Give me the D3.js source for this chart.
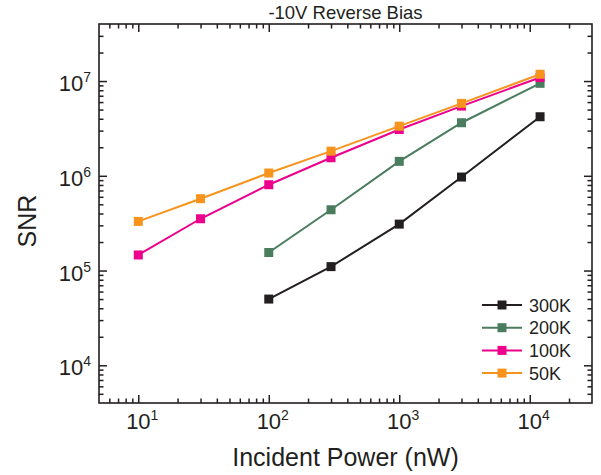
<!DOCTYPE html>
<html>
<head>
<script src="https://cdn.jsdelivr.net/npm/d3@7"></script>
<style>
  body { margin: 0; background: #fff; }
  text { font-family: "Liberation Sans", Arial, sans-serif; fill: #231f20; }
</style>
</head>
<body>
<script>
	var width = 601;
	var height = 475;
	var margin = {top: 24, right: 9, bottom: 72, left: 99};

	// data
	var power = [10, 30, 100, 300, 1000, 3000, 12000];
	var snr300 = [null, null, 5.0e4, 1.10e5, 3.09e5, 9.7e5, 4.2e6];
	var snr200 = [null, null, 1.55e5, 4.38e5, 1.42e6, 3.63e6, 9.46e6];
	var snr100 = [1.46e5, 3.52e5, 8.05e5, 1.55e6, 3.08e6, 5.44e6, 1.09e7];
	var snr50 = [3.30e5, 5.73e5, 1.07e6, 1.82e6, 3.34e6, 5.81e6, 1.18e7];

	var seriesNames = ["300K", "200K", "100K", "50K"];
	var seriesColors = ["#231f20", "#4a7c5e", "#ec008c", "#f7941d"];
	var seriesValues = [snr300, snr200, snr100, snr50];

	var xTicks = [10, 100, 1000, 10000];
	var yTicks = [1e4, 1e5, 1e6, 1e7];

	var svg = d3.select("body")
		.append("svg")
		.attr("width", width)
		.attr("height", height)

	var x = d3.scaleLog()
		.domain([5, 30000])
		.range([margin.left, width - margin.right])
	var y = d3.scaleLog()
		.domain([4000, 4e7])
		.range([height - margin.bottom, margin.top])

	var x0 = margin.left, x1 = width - margin.right;
	var y0 = height - margin.bottom, y1 = margin.top;

	// minor tick values
	function minors(scale) {
		var d = scale.domain(), out = [];
		for (var e = -1; e < 9; e++) {
			for (var k = 2; k < 10; k++) {
				var v = k * Math.pow(10, e);
				if (v > d[0] && v < d[1]) out.push(v);
			}
		}
		return out;
	}

	function drawAxis(axisFn, scale, ticks, size, tx, ty) {
		svg.append("g")
			.attr("transform", "translate(" + tx + "," + ty + ")")
			.call(axisFn(scale).tickValues(ticks).tickSize(size).tickFormat(""))
			.call(g => g.select(".domain").remove())
			.selectAll("line").attr("stroke", "#231f20").attr("stroke-width", 1.5)
	}

	// ticks point inward on all four sides
	drawAxis(d3.axisBottom, x, xTicks, -8, 0, y0)
	drawAxis(d3.axisBottom, x, minors(x), -4.5, 0, y0)
	drawAxis(d3.axisTop, x, xTicks, -8, 0, y1)
	drawAxis(d3.axisTop, x, minors(x), -4.5, 0, y1)
	drawAxis(d3.axisLeft, y, yTicks, -8, x0, 0)
	drawAxis(d3.axisLeft, y, minors(y), -4.5, x0, 0)
	drawAxis(d3.axisRight, y, yTicks, -8, x1, 0)
	drawAxis(d3.axisRight, y, minors(y), -4.5, x1, 0)

	// frame
	svg.append("rect")
		.attr("x", x0).attr("y", y1)
		.attr("width", x1 - x0).attr("height", y0 - y1)
		.attr("fill", "none")
		.attr("stroke", "#231f20")
		.attr("stroke-width", 1.6)

	// tick labels 10^n
	function powLabel(sel) {
		sel.append("tspan").text("10").attr("font-size", 22)
		sel.append("tspan").text(d => Math.round(Math.log10(d)))
			.attr("font-size", 14).attr("dy", -9)
	}
	svg.selectAll(".xlab")
		.data(xTicks)
		.enter()
		.append("text")
		.attr("x", d => x(d) + 4)
		.attr("y", y0 + 26)
		.attr("text-anchor", "middle")
		.call(powLabel)
	svg.selectAll(".ylab")
		.data(yTicks)
		.enter()
		.append("text")
		.attr("x", x0 - 8)
		.attr("y", d => y(d) + 10)
		.attr("text-anchor", "end")
		.call(powLabel)

	// titles
	svg.append("text")
		.attr("x", (x0 + x1) / 2)
		.attr("y", 19)
		.attr("text-anchor", "middle")
		.attr("font-size", 18.5)
		.text("-10V Reverse Bias")
	svg.append("text")
		.attr("x", (x0 + x1) / 2)
		.attr("y", 466)
		.attr("text-anchor", "middle")
		.attr("font-size", 25)
		.text("Incident Power (nW)")
	svg.append("text")
		.attr("transform", "translate(36,221) rotate(-90)")
		.attr("text-anchor", "middle")
		.attr("font-size", 25)
		.text("SNR")

	// series
	var line = d3.line()
		.defined(d => d[1] != null)
		.x(d => x(d[0]))
		.y(d => y(d[1]))

	seriesValues.forEach(function(vals, i) {
		var pts = power.map((p, j) => [p, vals[j]]);
		svg.append("path")
			.datum(pts)
			.attr("d", line)
			.attr("fill", "none")
			.attr("stroke", seriesColors[i])
			.attr("stroke-width", 2)
		svg.selectAll(".pt" + i)
			.data(pts.filter(d => d[1] != null))
			.enter()
			.append("rect")
			.attr("x", d => x(d[0]) - 4.5)
			.attr("y", d => y(d[1]) - 4.5)
			.attr("width", 9)
			.attr("height", 9)
			.attr("fill", seriesColors[i])
	})

	// legend
	var legend = svg.append("g")
		.attr("transform", "translate(" + (x1 - 110) + "," + (y0 - 98) + ")")
	seriesNames.forEach(function(name, i) {
		var g = legend.append("g").attr("transform", "translate(0," + (i * 22.7) + ")")
		g.append("line")
			.attr("x1", 0).attr("x2", 40)
			.attr("stroke", seriesColors[i])
			.attr("stroke-width", 2)
		g.append("rect")
			.attr("x", 15.5).attr("y", -4.5)
			.attr("width", 9).attr("height", 9)
			.attr("fill", seriesColors[i])
		g.append("text")
			.attr("x", 47)
			.attr("y", 6.5)
			.attr("font-size", 18)
			.text(name)
	})
</script>
</body>
</html>
